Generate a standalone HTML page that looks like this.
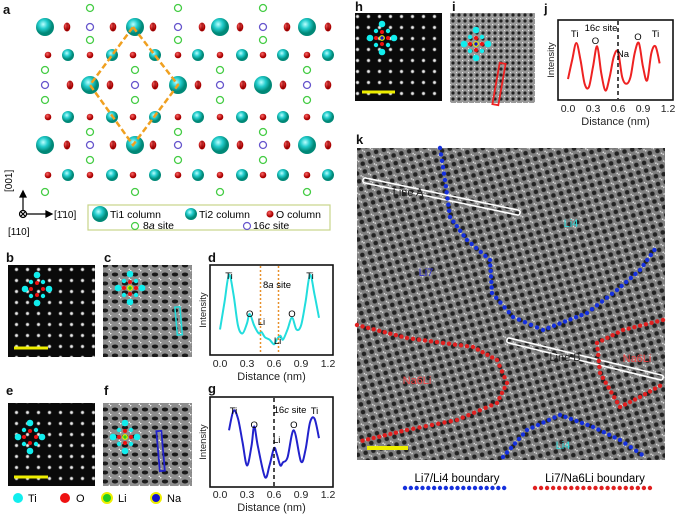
<!DOCTYPE html>
<html><head><meta charset="utf-8">
<style>
body{margin:0;background:#fff;}
svg{display:block;font-family:"Liberation Sans",sans-serif;}
</style></head>
<body>
<svg id="fig" width="685" height="516" viewBox="0 0 685 516" xmlns="http://www.w3.org/2000/svg">
<defs>
  <radialGradient id="wdot"><stop offset="0" stop-color="#fff"/><stop offset="0.5" stop-color="#bbb"/><stop offset="1" stop-color="#000" stop-opacity="0"/></radialGradient>
  <radialGradient id="ti1" cx="0.4" cy="0.35"><stop offset="0" stop-color="#bff"/><stop offset="0.5" stop-color="#2cc"/><stop offset="1" stop-color="#087"/></radialGradient>
  <radialGradient id="oo" cx="0.4" cy="0.35"><stop offset="0" stop-color="#f66"/><stop offset="1" stop-color="#a00"/></radialGradient>
  <pattern id="stemDark" width="11" height="11" patternUnits="userSpaceOnUse">
    <rect width="11" height="11" fill="#0a0a0a"/><circle cx="5.5" cy="5.5" r="2.6" fill="url(#wdot)"/>
  </pattern>
  <pattern id="stemGray" width="10" height="9" patternUnits="userSpaceOnUse">
    <rect width="10" height="9" fill="#8e8e8e"/><ellipse cx="5" cy="4.5" rx="3.2" ry="2" fill="#1a1a1a"/><circle cx="0" cy="0" r="1.5" fill="#eee"/><circle cx="10" cy="9" r="1.5" fill="#eee"/>
  </pattern>
  <pattern id="stemGrayFine" width="6" height="6" patternUnits="userSpaceOnUse">
    <rect width="6" height="6" fill="#999"/><circle cx="3" cy="3" r="1.6" fill="#222"/><circle cx="0" cy="0" r="1.2" fill="#eee"/>
  </pattern>
  <pattern id="kTex" width="8" height="8" patternUnits="userSpaceOnUse" patternTransform="rotate(-15)">
    <rect width="8" height="8" fill="#808080"/><circle cx="4" cy="4" r="2.3" fill="#222"/><circle cx="0" cy="0" r="1.6" fill="#ddd"/><circle cx="8" cy="8" r="1.6" fill="#ddd"/>
  </pattern>
</defs>

<g font-weight="bold" font-size="13" fill="#111">
<text x="3" y="14">a</text>
<text x="6" y="262">b</text>
<text x="104" y="262">c</text>
<text x="208" y="262">d</text>
<text x="6" y="395">e</text>
<text x="104" y="395">f</text>
<text x="208" y="393">g</text>
<text x="355" y="11">h</text>
<text x="452" y="11">i</text>
<text x="544" y="13">j</text>
<text x="356" y="144">k</text>
</g>

<g id="structure"></g>
<polygon points="133,27 178,85 133,145 90,85" fill="none" stroke="#f0a020" stroke-width="2.5" stroke-dasharray="6,3"/>

<g stroke="#000" fill="none" stroke-width="1.2">
<line x1="23" y1="214" x2="23" y2="195"/><polygon points="20,197 23,191 26,197" fill="#000"/>
<line x1="23" y1="214" x2="48" y2="214"/><polygon points="46,211 52,214 46,217" fill="#000"/>
<circle cx="23" cy="214" r="3.5" fill="#fff"/><line x1="20.5" y1="211.5" x2="25.5" y2="216.5"/><line x1="25.5" y1="211.5" x2="20.5" y2="216.5"/>
</g>
<text x="12" y="192" font-size="10" transform="rotate(-90 12 192)">[001]</text>
<text x="54" y="218" font-size="10">[1̄10]</text>
<text x="8" y="235" font-size="10">[110]</text>

<g font-size="10.5">
<rect x="88" y="205" width="242" height="25" fill="#fff" stroke="#c8d48a" stroke-width="1.2"/>
<circle cx="100" cy="214" r="8" fill="url(#ti1)"/><text x="110" y="218">Ti1 column</text>
<circle cx="191" cy="214" r="6" fill="url(#ti1)"/><text x="199" y="218">Ti2 column</text>
<circle cx="270" cy="214" r="3.5" fill="url(#oo)"/><text x="276" y="218">O column</text>
<circle cx="135" cy="226" r="3.5" fill="none" stroke="#4c4" stroke-width="1.2"/><text x="143" y="229">8<tspan font-style="italic">a</tspan> site</text>
<circle cx="247" cy="226" r="3.5" fill="none" stroke="#65c" stroke-width="1.2"/><text x="253" y="229">16<tspan font-style="italic">c</tspan> site</text>
</g>

<rect x="8" y="265" width="87" height="92" fill="url(#stemDark)"/>
<rect x="103" y="265" width="89" height="92" fill="url(#stemGray)"/>
<rect x="8" y="403" width="87" height="83" fill="url(#stemDark)"/>
<rect x="103" y="403" width="89" height="83" fill="url(#stemGray)"/>
<rect x="355" y="13" width="87" height="88" fill="url(#stemDark)"/>
<rect x="450" y="13" width="85" height="90" fill="url(#stemGrayFine)"/>
<rect x="357" y="148" width="308" height="312" fill="url(#kTex)"/>

<line x1="14" y1="348" x2="48" y2="348" stroke="#ee0" stroke-width="3"/>
<line x1="14" y1="477" x2="48" y2="477" stroke="#ee0" stroke-width="3"/>
<line x1="362" y1="92" x2="395" y2="92" stroke="#ee0" stroke-width="3"/>
<line x1="367" y1="448" x2="408" y2="448" stroke="#ee0" stroke-width="4"/>

<rect x="176" y="307" width="5" height="28" fill="none" stroke="#2dd" stroke-width="1.5" transform="rotate(-5 178 320)"/>
<rect x="158" y="431" width="5" height="40" fill="none" stroke="#22c" stroke-width="1.8" transform="rotate(-5 160 450)"/>
<rect x="496" y="63" width="6" height="42" fill="none" stroke="#e22" stroke-width="1.8" transform="rotate(10 499 84)"/>

<g id="motifs"></g>

<g font-size="11">
<circle cx="18" cy="498" r="5" fill="#1ee"/><text x="28" y="502">Ti</text>
<circle cx="65" cy="498" r="5" fill="#e11"/><text x="76" y="502">O</text>
<circle cx="107" cy="498" r="5" fill="#2c2" stroke="#ee0" stroke-width="2"/><text x="118" y="502">Li</text>
<circle cx="156" cy="498" r="5" fill="#11c" stroke="#ee0" stroke-width="2"/><text x="167" y="502">Na</text>
</g>

<g id="plots"></g>
<g id="kover"></g>
</svg>
<script>
const dDist = [0.0,0.05,0.1,0.15,0.2,0.25,0.3,0.33,0.38,0.43,0.46,0.5,0.55,0.6,0.63,0.67,0.7,0.75,0.8,0.85,0.9,0.95,1.0,1.05,1.1];
const dInt  = [0.25,0.6,0.95,0.7,0.3,0.2,0.33,0.45,0.3,0.2,0.22,0.15,0.12,0.06,0.12,0.17,0.12,0.25,0.4,0.25,0.3,0.6,0.95,0.7,0.4];
const gDist = [0.1,0.15,0.2,0.25,0.3,0.35,0.38,0.42,0.5,0.55,0.6,0.63,0.67,0.7,0.75,0.82,0.9,0.95,1.0,1.05,1.1];
const gInt  = [0.65,0.9,0.8,0.5,0.2,0.45,0.7,0.45,0.05,0.2,0.42,0.35,0.2,0.24,0.3,0.65,0.25,0.4,0.75,0.8,0.55];
const jDist = [0.0,0.05,0.1,0.15,0.2,0.25,0.3,0.35,0.4,0.45,0.5,0.55,0.6,0.65,0.7,0.75,0.8,0.85,0.9,0.95,1.0,1.05,1.1];
const jInt  = [0.22,0.5,0.75,0.5,0.15,0.1,0.4,0.7,0.3,0.05,0.25,0.55,0.62,0.25,0.15,0.25,0.6,0.75,0.4,0.2,0.6,0.7,0.45];
const xTicks = ["0.0","0.3","0.6","0.9","1.2"];

const NS="http://www.w3.org/2000/svg";
function mk(tag,attrs,parent,txt){const e=document.createElementNS(NS,tag);for(const k in attrs)e.setAttribute(k,attrs[k]);if(txt!==undefined)e.textContent=txt;parent.appendChild(e);return e;}

const S=document.getElementById('structure');
const colsA=[48,90,133,178,220,263,307], colsB=[68,112,155,198,242,283,328];
const Ti1A=[45,135,220,307], Ti1B=[90,178,263];
const OpA=[67,113,153,202,240,287,328], OpB=[70,110,155,198,243,283,328];
function green(x,y){mk('circle',{cx:x,cy:y,r:3.5,fill:'none',stroke:'#4c4','stroke-width':1.3},S);}
function purple(x,y){mk('circle',{cx:x,cy:y,r:3.5,fill:'none',stroke:'#65c','stroke-width':1.3},S);}
function ti(x,y,r){mk('circle',{cx:x,cy:y,r:r,fill:'url(#ti1)'},S);}
function opair(x,y){mk('ellipse',{cx:x,cy:y,rx:3.3,ry:4.5,fill:'url(#oo)'},S);mk('line',{x1:x,y1:y-4,x2:x,y2:y+4,stroke:'#700','stroke-width':0.8},S);}
function osm(x,y){mk('circle',{cx:x,cy:y,r:3.3,fill:'url(#oo)'},S);}
function rowTi2(y){colsA.forEach(x=>osm(x,y));colsB.forEach(x=>ti(x,y,6));}
[8,40,132,160].forEach(y=>Ti1B.forEach(x=>green(x,y)));
[70,100,192].forEach(y=>Ti1A.forEach(x=>green(x,y)));
[27,145].forEach(y=>{Ti1B.forEach(x=>purple(x,y));OpA.forEach(x=>opair(x,y));Ti1A.forEach(x=>ti(x,y,9));});
[85].forEach(y=>{Ti1A.forEach(x=>purple(x,y));OpB.forEach(x=>opair(x,y));Ti1B.forEach(x=>ti(x,y,9));});
[55,117,175].forEach(rowTi2);

const M=document.getElementById('motifs');
function motif(cx,cy,center,s){
  mk('circle',{cx:cx,cy:cy-14*s,r:3.3,fill:'#1ee'},M);mk('circle',{cx:cx,cy:cy+14*s,r:3.3,fill:'#1ee'},M);
  mk('circle',{cx:cx-12*s,cy:cy,r:3.3,fill:'#1ee'},M);mk('circle',{cx:cx+12*s,cy:cy,r:3.3,fill:'#1ee'},M);
  [[-6,-7],[6,-7],[-6,7],[6,7]].forEach(p=>mk('circle',{cx:cx+p[0]*s,cy:cy+p[1]*s,r:2.2,fill:'#1ee'},M));
  [[0,-6],[0,6],[-6,0],[6,0]].forEach(p=>mk('circle',{cx:cx+p[0]*s,cy:cy+p[1]*s,r:2,fill:'#e11'},M));
  if(center==='li')mk('circle',{cx:cx,cy:cy,r:2.3,fill:'#2c2',stroke:'#ee0','stroke-width':1.2},M);
  if(center==='na')mk('circle',{cx:cx,cy:cy,r:2.3,fill:'#11c',stroke:'#ee0','stroke-width':1.2},M);
}
motif(37,289,null,1);motif(130,288,'li',1);motif(30,437,null,1);motif(125,437,'li',1);
motif(382,38,'na',1);motif(476,44,'na',1);

const P=document.getElementById('plots');
function plot(name,bx,by,bw,bh,dist,inten,color,tickY,labY){
  const xs=v=>bx+10+v*(bw-15)/1.2;
  const ys=v=>by+bh-6-v*(bh-12);
  const g=mk('g',{},P);
  
  
  mk('rect',{x:bx,y:by,width:bw,height:bh,fill:'#fff',stroke:'#111','stroke-width':1.6},g);
  xTicks.forEach(t=>{const x=xs(parseFloat(t));const tt=mk('text',{x:x,y:tickY,'font-size':10.5,'text-anchor':'middle',fill:'#222'},g,t);});
  const xl=mk('text',{x:bx+bw/2,y:labY,'font-size':11,'text-anchor':'middle',fill:'#222'},g,'Distance (nm)');
  
  const yl=mk('text',{x:bx-4,y:by+bh/2,'font-size':9.5,'text-anchor':'middle',transform:`rotate(-90 ${bx-4} ${by+bh/2})`,fill:'#222'},g,'Intensity');
  
  const pts=dist.map((d,i)=>[xs(d),ys(inten[i])]);
  let dstr='M'+pts[0][0]+','+pts[0][1];
  for(let i=0;i<pts.length-1;i++){const p0=pts[Math.max(0,i-1)],p1=pts[i],p2=pts[i+1],p3=pts[Math.min(pts.length-1,i+2)];
    dstr+=` C${p1[0]+(p2[0]-p0[0])/6},${p1[1]+(p2[1]-p0[1])/6} ${p2[0]-(p3[0]-p1[0])/6},${p2[1]-(p3[1]-p1[1])/6} ${p2[0]},${p2[1]}`;}
  const ln=mk('path',{d:dstr,fill:'none',stroke:color,'stroke-width':2},g);
  
  return {g,xs,ys};
}
const pd=plot('profile-plot-d',210,265,123,90,dDist,dInt,'#2dd',367,380);
[0.45,0.65].forEach(v=>mk('line',{x1:pd.xs(v),y1:266,x2:pd.xs(v),y2:354,stroke:'#e8902a','stroke-width':1.5,'stroke-dasharray':'2,2'},pd.g));
mk('text',{x:277,y:288,'font-size':9.5,'text-anchor':'middle'},pd.g).innerHTML='8<tspan font-style="italic">a</tspan> site';
[['Ti',pd.xs(0.1),279],['Ti',pd.xs(1.0),279],['O',pd.xs(0.33),317],['O',pd.xs(0.8),317],['Li',pd.xs(0.46),325],['Li',pd.xs(0.64),344]].forEach(a=>mk('text',{x:a[1],y:a[2],'font-size':9.5,'text-anchor':'middle'},pd.g,a[0]));
const pg=plot('profile-plot-g',210,397,123,90,gDist,gInt,'#22c',498,511);
mk('line',{x1:pg.xs(0.6),y1:398,x2:pg.xs(0.6),y2:486,stroke:'#111','stroke-width':1.5,'stroke-dasharray':'4,3'},pg.g);
mk('text',{x:290,y:413,'font-size':9.5,'text-anchor':'middle'},pg.g).innerHTML='16<tspan font-style="italic">c</tspan> site';
[['Ti',pg.xs(0.15),414],['Ti',pg.xs(1.05),414],['O',pg.xs(0.38),428],['O',pg.xs(0.82),428],['Li',pg.xs(0.63),443]].forEach(a=>mk('text',{x:a[1],y:a[2],'font-size':9.5,'text-anchor':'middle'},pg.g,a[0]));
const pj=plot('profile-plot-j',558,20,115,80,jDist,jInt,'#e22',112,125);
mk('line',{x1:pj.xs(0.6),y1:21,x2:pj.xs(0.6),y2:99,stroke:'#111','stroke-width':1.5,'stroke-dasharray':'4,3'},pj.g);
mk('text',{x:601,y:31,'font-size':9.5,'text-anchor':'middle'},pj.g).innerHTML='16<tspan font-style="italic">c</tspan> site';
[['Ti',pj.xs(0.08),37],['Ti',pj.xs(1.05),37],['O',pj.xs(0.33),44],['O',pj.xs(0.84),40],['Na',pj.xs(0.66),57]].forEach(a=>mk('text',{x:a[1],y:a[2],'font-size':9.5,'text-anchor':'middle'},pj.g,a[0]));

const K=document.getElementById('kover');
const blue1=[[440,148],[445,180],[450,217],[467,240],[490,260],[492,293],[513,317],[543,330],[587,313],[617,290],[640,270],[658,245]];
const blue2=[[503,457],[527,430],[560,415],[593,427],[620,440],[647,458]];
const red1=[[357,325],[407,338],[473,347],[497,360],[507,383],[497,403],[457,420],[407,430],[357,442]];
const red2=[[663,320],[623,330],[597,343],[600,373],[620,407],[640,397],[665,383]];
function dots(pts,color,name){
  const g=mk('g',{fill:color},K);
  
  for(let i=0;i<pts.length-1;i++){const [x0,y0]=pts[i],[x1,y1]=pts[i+1];const L=Math.hypot(x1-x0,y1-y0);const n=Math.max(1,Math.round(L/6));
    for(let k=0;k<n;k++){mk('circle',{cx:x0+(x1-x0)*k/n,cy:y0+(y1-y0)*k/n,r:2.2},g);}}
}
function band(x0,y0,x1,y1,name){
  const a=Math.atan2(y1-y0,x1-x0)*180/Math.PI,L=Math.hypot(x1-x0,y1-y0);
  const r=mk('rect',{x:x0,y:y0-2.5,width:L,height:5,rx:2,fill:'none',stroke:'#fff','stroke-width':1.6,transform:`rotate(${a} ${x0} ${y0})`},K);
  
}
band(363,180,520,213,'line-a');band(507,340,663,378,'line-b');
dots(blue1,'#1530dd','li7-li4-boundary-1');dots(blue2,'#1530dd','li7-li4-boundary-2');
dots(red1,'#e02020','li7-na6li-boundary-1');dots(red2,'#e02020','li7-na6li-boundary-2');
[['Line A',408,196,'#222'],['Line B',565,361,'#222'],['Li4',571,227,'#3dd'],['Li7',426,276,'#33c'],['Na6Li',417,384,'#e44'],['Na6Li',637,362,'#e44'],['Li4',563,449,'#3dd']].forEach(a=>{
  const t=mk('text',{x:a[1],y:a[2],'font-size':11,'text-anchor':'middle',fill:a[3]},K,a[0]);
  });
const kl1=mk('text',{x:457,y:482,'font-size':11.5,'text-anchor':'middle'},K,'Li7/Li4 boundary');

const kl2=mk('text',{x:595,y:482,'font-size':11.5,'text-anchor':'middle'},K,'Li7/Na6Li boundary');

dots([[405,488],[510,488]],'#1530dd','legend-blue-dots');
dots([[535,488],[656,488]],'#e02020','legend-red-dots');
</script>
</body></html>
